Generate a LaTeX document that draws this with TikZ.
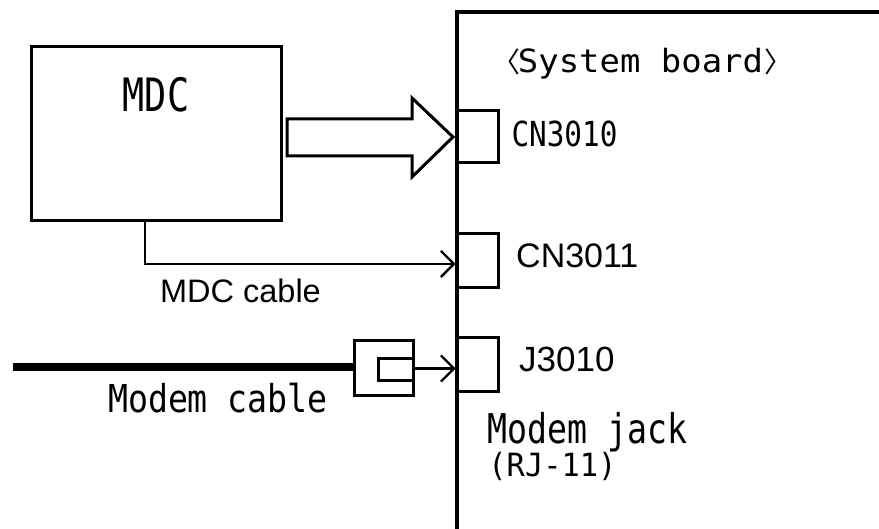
\documentclass[tikz,border=0pt]{standalone}
\usepackage{fontspec}
\setmainfont{Liberation Sans}
\newfontfamily\gothic{DejaVu Sans Mono}
\newfontfamily\cjk{Noto Sans CJK JP}
\usetikzlibrary{arrows.meta}
\newcommand\gothtxt[3]{{\gothic\fontsize{#1}{#1}\selectfont\scalebox{#2}[1]{#3}}}
\begin{document}
\begin{tikzpicture}[x=1pt,y=-1pt,
  box/.style={draw, line width=3pt, rectangle, inner sep=0pt},
  conbox/.style={draw, line width=3pt, rectangle, inner sep=0pt, minimum width=41pt},
  lbl/.style={inner sep=0pt},
  wire/.style={line width=2.3pt, -{Straight Barb[length=13pt,width=26pt,line width=2.3pt]}},
  ]
\useasboundingbox (0,0) rectangle (879,529);
\clip (0,0) rectangle (879,529);
\fill[white] (0,0) rectangle (879,529);
% system board outline
\coordinate (boardtl) at (457,12);
\draw[line width=3.2pt] (457,545) -- (boardtl) -- (895,12);
% MDC
\node[box, minimum width=250pt, minimum height=174pt] (mdc) at (156,134) {};
\node[lbl, anchor=base] (mdclbl) at (156,112) {\gothtxt{46}{0.8}{MDC}};
% connectors on board
\node[conbox, minimum height=52pt] (cn3010) at (477.5,137) {};
\node[conbox, minimum height=54pt] (cn3011) at (477.5,261) {};
\node[conbox, minimum height=54pt] (j3010) at (477.5,365) {};
% block arrow MDC -> CN3010
\draw[line width=3pt, line join=miter, fill=white]
  (287,119) -- (412,119) -- (412,98) -- (453,137) -- (412,177) -- (412,156) -- (287,156) -- cycle;
% MDC cable
\coordinate (bend) at (145,264);
\draw[wire] (mdc.south -| bend) -- (bend) -- (bend -| cn3011.west);
% modem cable and plug
\node[draw, line width=3pt, rectangle, inner sep=0pt, minimum width=59pt, minimum height=55pt] (plug) at (383.5,368.5) {};
\node[draw, line width=3pt, rectangle, inner sep=0pt, minimum width=35pt, minimum height=22pt, anchor=east] (plugin) at ([yshift=-1.5pt]plug.east) {};
\coordinate (cableend) at (13,367);
\draw[line width=8pt] (cableend) -- (cableend -| plug.west);
\draw[wire] (plug.east) -- (plug.east -| j3010.west);
% labels
\node[lbl, anchor=base] (sb) at (640.5,73) {\gothtxt{32}{1.06}{System board}};
\node[lbl, anchor=center] (sbl) at (506,61.5) {\cjk\fontsize{28}{28}\selectfont 〈};
\node[lbl, anchor=center] (sbr) at (778,61.5) {\cjk\fontsize{28}{28}\selectfont 〉};
\node[lbl, anchor=base] (l3010) at (564.5,147) {\gothtxt{34.5}{0.85}{CN3010}};
\node[lbl, anchor=base west] (l3011) at (516,268) {\fontsize{34}{34}\selectfont CN3011};
\node[lbl, anchor=base west] (lj) at (519,372) {\fontsize{35}{35}\selectfont J3010};
\node[lbl, anchor=base] (ljack) at (587.5,444) {\gothtxt{41}{0.81}{Modem jack}};
\node[lbl, anchor=base] (lrj) at (552.5,476) {\gothtxt{32}{0.95}{(RJ-11)}};
\node[lbl, anchor=base] (lmdcc) at (240.5,303) {\fontsize{32.5}{32.5}\selectfont MDC cable};
\node[lbl, anchor=base] (lmodc) at (218,413) {\gothtxt{38.4}{0.865}{Modem cable}};
\end{tikzpicture}
\end{document}
